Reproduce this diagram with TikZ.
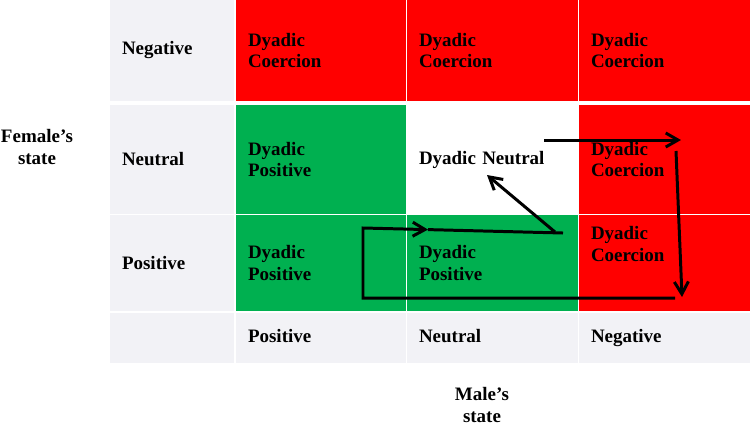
\documentclass[tikz,border=0pt]{standalone}
\usepackage{fontspec}
\setmainfont{Liberation Serif}
\usepackage{xcolor}
\usetikzlibrary{arrows.meta, positioning}

\definecolor{cellred}{HTML}{FF0000}
\definecolor{cellgreen}{HTML}{00B050}
\definecolor{cellgrey}{HTML}{F2F2F6}

\begin{document}
\begin{tikzpicture}[
		    x=0.02cm, y=-0.02cm,
		    every node/.style={font=\bfseries\fontsize{10.8}{12.5}\selectfont},
		    cell/.style={rectangle, inner xsep=0.24cm, inner ysep=0pt, align=left}
		]
		\tikzset{
		    cinza/.style={cell, fill=cellgrey},
		    vermelho/.style={cell, fill=cellred},
		    verde/.style={cell, fill=cellgreen},
		    branco/.style={cell, fill=white},
		    hcol/.style={text width=2.0cm},
		    pcol/.style={text width=2.92cm},
		    ncol/.style={text width=2.94cm},
		    linhaa/.style={minimum height=2.02cm},
		    linhab/.style={minimum height=2.18cm},
		    linhac/.style={minimum height=1.92cm},
		    linhad/.style={minimum height=1.0cm, text height=1.6ex, text depth=0.5ex},
		    fluxo/.style={line width=1.7pt, line join=miter},
		    seta/.style={-{Straight Barb[length=7pt, width=8pt]}}
		}
		\useasboundingbox (0,0) rectangle (750,427);
		% female rows
		\node[cinza, hcol, linhaa] (h1) at (172,50.5) {Negative};
		\node[cinza, hcol, linhab] (h2) at (172,159.5) {Neutral};
		\node[cinza, hcol, linhac] (h3) at (172,263) {Positive};
		\node[cinza, hcol, linhad] (h4) at (172,338) {};
		% grid
		\node[vermelho, pcol, linhaa] (c11) at (321,50.5) {Dyadic\\Coercion};
		\node[vermelho, ncol, linhaa] (c12) at (492.5,50.5) {Dyadic\\Coercion};
		\node[vermelho, ncol, linhaa] (c13) at (664.5,50.5) {Dyadic\\Coercion};
		\node[verde, pcol, linhab] (c21) at (321,159.5) {Dyadic\\Positive};
		\node[branco, ncol, linhab] (c22) at (492.5,159.5) {Dyadic Neutral};
		\node[vermelho, ncol, linhab] (c23) at (664.5,159.5) {Dyadic\\Coercion};
		\node[verde, pcol, linhac] (c31) at (321,263) {Dyadic\\Positive};
		\node[verde, ncol, linhac] (c32) at (492.5,263) {Dyadic\\Positive};
		\node[vermelho, ncol, linhac] (c33) at (664.5,263) {};
		\node[align=left, anchor=west, inner sep=0pt] (t33) at ([xshift=0.24cm, yshift=0.38cm]c33.west) {Dyadic\\Coercion};
		% male columns
		\node[cinza, pcol, linhad] (m1) at (321,338) {Positive};
		\node[cinza, ncol, linhad] (m2) at (492.5,338) {Neutral};
		\node[cinza, ncol, linhad] (m3) at (664.5,338) {Negative};
		% axis names
		\node[align=center, inner sep=0pt] (female) at (37,147) {Female’s\\state};
		\node[align=center, inner sep=0pt] (male) at (482,405) {Male’s\\state};
		% path
		\coordinate (lp1) at (675,298);
		\coordinate (lp2) at (363,298);
		\coordinate (lp3) at (363,228);
		\coordinate (lpm) at (428,229.6);
		\coordinate (lp4) at (563,233);
		\coordinate (dg1) at (555,232);
		\coordinate (dg2) at (487,175);
		\coordinate (tp1) at (544,140);
		\coordinate (tp2) at (681,140);
		\coordinate (dn1) at (676,151);
		\coordinate (dn2) at (682,297);
		\draw[fluxo, seta] (lp1) -- (lp2) -- (lp3) -- (lpm);
		\draw[fluxo] (lpm) -- (lp4);
		\draw[fluxo, seta] (dg1) -- (dg2);
		\draw[fluxo, seta] (tp1) -- (tp2);
		\draw[fluxo, seta] (dn1) -- (dn2);
		\end{tikzpicture}
\end{document}
